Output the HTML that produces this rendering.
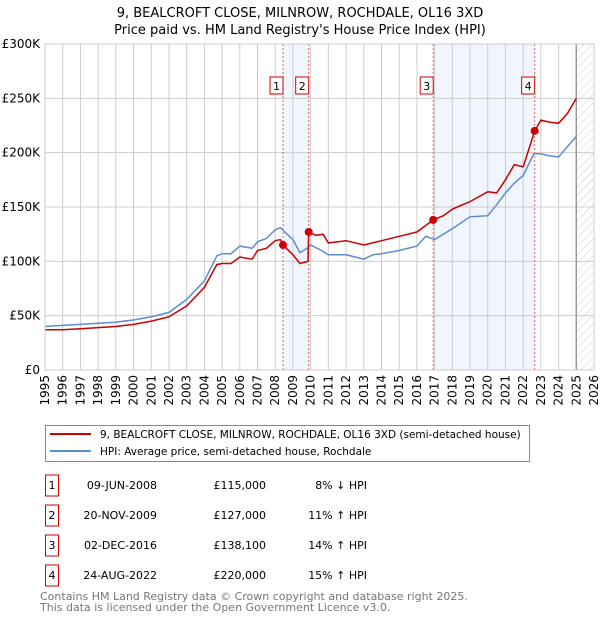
<!DOCTYPE html>
<html><head><meta charset="utf-8"><style>
body{margin:0;background:#fff;font-family:"DejaVu Sans","Liberation Sans",sans-serif;}
svg text{font-family:"DejaVu Sans","Liberation Sans",sans-serif;}
</style></head><body>
<svg id="chart" width="600" height="620" xmlns="http://www.w3.org/2000/svg">
<defs><pattern id="hatch" patternUnits="userSpaceOnUse" width="6" height="6" patternTransform="rotate(45)"><line x1="0" y1="0" x2="0" y2="6" stroke="#ccc" stroke-width="1"/></pattern></defs>
<text x="300" y="17" text-anchor="middle" font-size="13">9, BEALCROFT CLOSE, MILNROW, ROCHDALE, OL16 3XD</text>
<text x="300" y="34" text-anchor="middle" font-size="13">Price paid vs. HM Land Registry's House Price Index (HPI)</text>
<g id="plot"></g>
<g>
<rect x="45.5" y="425.5" width="484" height="36" fill="#fff" stroke="#888"/>
<line x1="50" y1="434" x2="91" y2="434" stroke="#cc0000" stroke-width="2"/>
<text x="100" y="438" font-size="10.5">9, BEALCROFT CLOSE, MILNROW, ROCHDALE, OL16 3XD (semi-detached house)</text>
<line x1="50" y1="451" x2="91" y2="451" stroke="#5b8dd1" stroke-width="2"/>
<text x="100" y="455" font-size="10.5">HPI: Average price, semi-detached house, Rochdale</text>
</g>
<g id="table" font-size="11"></g>
<text x="40" y="600" font-size="11" fill="#777">Contains HM Land Registry data © Crown copyright and database right 2025.</text>
<text x="40" y="611" font-size="11" fill="#777">This data is licensed under the Open Government Licence v3.0.</text>
</svg>
<script>
const hpiYears=[1995,1996,1997,1998,1999,2000,2001,2002,2003,2004,2004.7,2005,2005.5,2006,2006.7,2007,2007.5,2008,2008.3,2008.6,2009,2009.4,2009.8,2010,2010.5,2011,2012,2013,2013.5,2014,2015,2016,2016.5,2017,2018,2019,2020,2020.5,2021,2021.5,2022,2022.6,2023,2023.5,2024,2025];
const hpiValues=[40,41,42,43,44,46,49,53,65,82,105,107,107,114,112,118,121,129,131,126,120,108,112,115,111,106,106,102,106,107,110,114,123,120,130,141,142,152,163,172,179,199,199,197,196,215];
const propYears=[1995,1996,1997,1998,1999,2000,2001,2002,2003,2004,2004.7,2005,2005.5,2006,2006.7,2007,2007.5,2008,2008.3,2008.44,2009,2009.4,2009.85,2009.89,2010.3,2010.7,2011,2012,2013,2013.5,2014,2015,2016,2016.92,2017.5,2018,2019,2020,2020.5,2021,2021.5,2022,2022.65,2023,2023.5,2024,2024.5,2025];
const propValues=[37,37,38,39,40,42,45,49,59,76,97,98,98,104,102,110,112,119,120,115,106,98,100,127,124,125,117,119,115,117,119,123,127,138.1,142,148,155,164,163,175,189,187,220,230,228,227,236,250];
const saleLabels=["1","2","3","4"];
const saleYears=[2008.44,2009.89,2016.92,2022.65];
const saleValues=[115,127,138.1,220];
const saleDates=["09-JUN-2008","20-NOV-2009","02-DEC-2016","24-AUG-2022"];
const salePrices=["£115,000","£127,000","£138,100","£220,000"];
const saleDiffs=["8% ↓ HPI","11% ↑ HPI","14% ↑ HPI","15% ↑ HPI"];
const yTicks=[0,50,100,150,200,250,300];
const yTickLabels=["£0","£50K","£100K","£150K","£200K","£250K","£300K"];
const xTicks=[];for(let y=1995;y<=2026;y++)xTicks.push(y);

const X0=45,X1=594,Y0=370,Y1=44;
const xs=v=>X0+(v-1995)*(X1-X0)/31;
const ys=v=>Y0-v*(Y0-Y1)/300;
const NS="http://www.w3.org/2000/svg";
function mk(tag,attrs,parent){const e=document.createElementNS(NS,tag);for(const k in attrs)e.setAttribute(k,attrs[k]);parent.appendChild(e);return e;}
const g=document.getElementById('plot');
[[0,1],[2,3]].forEach((p,i)=>{
 const r=mk('rect',{x:xs(saleYears[p[0]]),y:Y1,width:xs(saleYears[p[1]])-xs(saleYears[p[0]]),height:Y0-Y1,fill:'#eef3fc',opacity:0.8},g);
 
 
});
const hr=mk('rect',{x:xs(2025),y:Y1,width:X1-xs(2025),height:Y0-Y1,fill:'url(#hatch)'},g);


xTicks.forEach(t=>{
 const l=mk('line',{x1:xs(t),x2:xs(t),y1:Y1,y2:Y0,stroke:'#ccc'},g);
 
 
 const tx=mk('text',{x:0,y:0,'font-size':12,'text-anchor':'end',transform:`translate(${xs(t)+4},375) rotate(-90)`},g);
 tx.textContent=t;
 
 
});
yTicks.forEach((t,i)=>{
 const l=mk('line',{x1:X0,x2:X1,y1:ys(t),y2:ys(t),stroke:'#ccc'},g);
 
 
 const tx=mk('text',{x:40,y:ys(t)+4,'font-size':12,'text-anchor':'end'},g);
 tx.textContent=yTickLabels[i];
 
 
});
const vl=mk('line',{x1:xs(2025),x2:xs(2025),y1:Y1,y2:Y0,stroke:'#999','stroke-width':1.5},g);


saleYears.forEach((s,i)=>{
 const l=mk('line',{x1:xs(s),x2:xs(s),y1:Y1,y2:Y0,stroke:'#e06060','stroke-dasharray':'2,2'},g);
 
 
 const b=mk('rect',{x:xs(s)-13,y:77,width:13,height:17,fill:'#fff',stroke:'#cc0000'},g);
 
 
 const t=mk('text',{x:xs(s)-6.5,y:90,'font-size':11,'text-anchor':'middle'},g);
 t.textContent=saleLabels[i];
 
 
});
function path(xa,va){return xa.map((x,i)=>(i?'L':'M')+xs(x).toFixed(1)+','+ys(va[i]).toFixed(1)).join('');}
const hp=mk('path',{d:path(hpiYears,hpiValues),fill:'none',stroke:'#5b8dd1','stroke-width':1.5},g);


const pp=mk('path',{d:path(propYears,propValues),fill:'none',stroke:'#cc0000','stroke-width':1.5},g);


saleYears.forEach((s,i)=>{
 const c=mk('circle',{cx:xs(s),cy:ys(saleValues[i]),r:4,fill:'#cc0000'},g);
 
 
});
const fr=mk('rect',{x:X0,y:Y1,width:X1-X0,height:Y0-Y1,fill:'none',stroke:'#ccc'},g);


const tb=document.getElementById('table');
saleLabels.forEach((lab,i)=>{
 const y=483+i*30;
 const b=mk('rect',{x:45.5,y:y-8,width:13,height:21,fill:'#fff',stroke:'#cc0000'},tb);
 
 
 const cols=[[52,lab,'middle'],[157,saleDates[i],'end'],[266,salePrices[i],'end'],[367,saleDiffs[i],'end']];
 cols.forEach(c=>{
  const t=mk('text',{x:c[0],y:y+6,'text-anchor':c[2]},tb);
  t.textContent=c[1];
  
  
 });
});
</script>
</body></html>
